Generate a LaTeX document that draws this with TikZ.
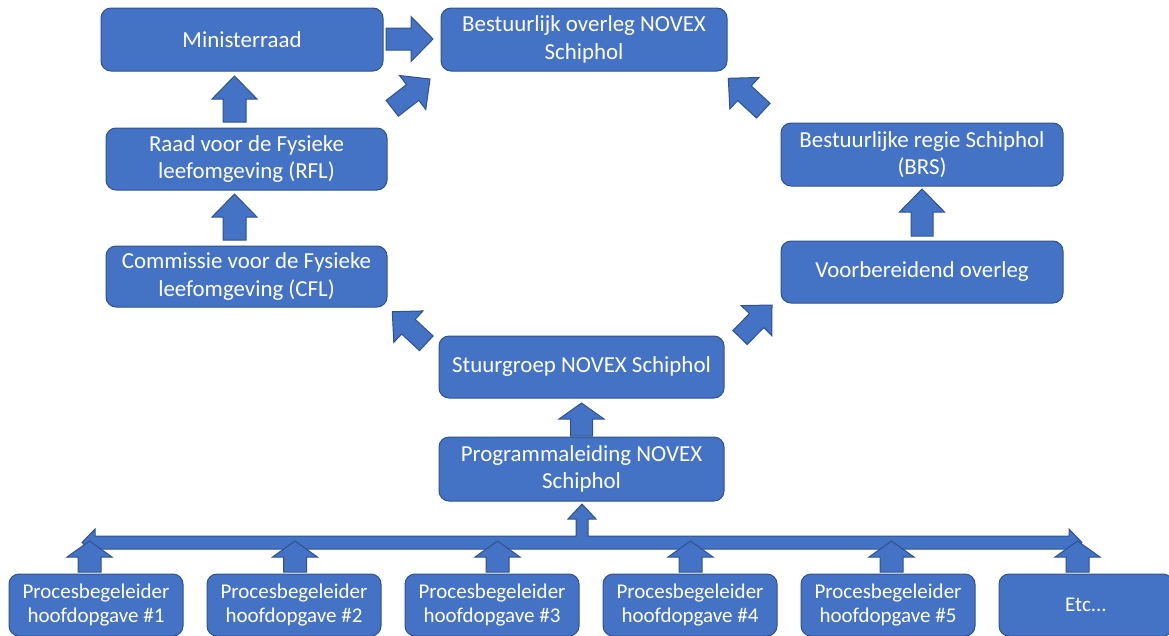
\documentclass[tikz,border=0pt]{standalone}
\usepackage{fontspec}
\setmainfont{Carlito}
\usetikzlibrary{calc}
\definecolor{ofblue}{HTML}{4472C4}
\definecolor{ofline}{HTML}{2F528F}
\tikzset{
  box/.style={rectangle, rounded corners=10pt, fill=ofblue, draw=ofline, line width=1pt,
    text=white, align=center, inner sep=0pt, font=\fontsize{22.9}{27.7}\selectfont},
  smallbox/.style={box, font=\fontsize{21}{24.7}\selectfont, minimum width=174pt, minimum height=62pt},
  blockarr/.style={fill=ofblue, draw=ofline, line width=1pt, line join=miter},
}
% block arrow: tail, tip, shaft width, head width, head length
\newcommand\barrow[5]{%
  \coordinate (ba-q) at ($(#2)!#5!(#1)$);
  \path[blockarr] ($(#1)!{#3/2}!90:(#2)$) -- ($(ba-q)!{#3/2}!-90:(#1)$) -- ($(ba-q)!{#4/2}!-90:(#1)$)
    -- (#2) -- ($(ba-q)!{#4/2}!90:(#1)$) -- ($(ba-q)!{#3/2}!90:(#1)$) -- ($(#1)!{#3/2}!-90:(#2)$) -- cycle;
}
\begin{document}
\begin{tikzpicture}[x=1pt, y=-1pt]
\useasboundingbox (0,0) rectangle (1169,635);

% boxes
\node[box, minimum width=282pt, minimum height=63pt] (min) at (242,39.5) {Ministerraad};
\node[box, minimum width=286pt, minimum height=63pt] (best) at (584,39.5) {Bestuurlijk overleg NOVEX\\Schiphol};
\node[box, minimum width=281pt, minimum height=62pt] (rfl) at (246.5,159) {Raad voor de Fysieke\\leefomgeving (RFL)};
\node[box, minimum width=281pt, minimum height=61pt] (cfl) at (246.5,276.5) {Commissie voor de Fysieke\\leefomgeving (CFL)};
\node[box, minimum width=282pt, minimum height=63pt] (brs) at (922,154.5) {Bestuurlijke regie Schiphol\\(BRS)};
\node[box, minimum width=282pt, minimum height=62pt] (voor) at (922,272) {Voorbereidend overleg};
\node[box, minimum width=285pt, minimum height=62pt] (stuur) at (581.5,367) {Stuurgroep NOVEX Schiphol};
\node[box, minimum width=285pt, minimum height=64pt] (prog) at (581.5,469) {Programmaleiding NOVEX\\Schiphol};

\node[smallbox] (p1) at (96,605) {Procesbegeleider\\hoofdopgave \#1};
\node[smallbox] (p2) at (294,605) {Procesbegeleider\\hoofdopgave \#2};
\node[smallbox] (p3) at (492,605) {Procesbegeleider\\hoofdopgave \#3};
\node[smallbox] (p4) at (690,605) {Procesbegeleider\\hoofdopgave \#4};
\node[smallbox] (p5) at (888,605) {Procesbegeleider\\hoofdopgave \#5};
\node[smallbox] (p6) at (1086,605) {Etc.{}.{}.};

% block arrow end points
\coordinate (rflT) at (234.5,122);   \coordinate (minH) at (234.5,76);
\coordinate (cflT) at (234.5,240);   \coordinate (rflH) at (234.5,194);
\coordinate (voorT) at (922,236);    \coordinate (brsH) at (922,189);
\coordinate (progT) at (581.5,436);  \coordinate (stuurH) at (581.5,403);
\coordinate (minT) at (386,39);      \coordinate (bestH) at (433,39);
\coordinate (minDT) at (392.2,108.3); \coordinate (bestHL) at (430,79);
\coordinate (brsDT) at (763.3,110.7); \coordinate (bestHR) at (728.3,78.3);
\coordinate (stuurDL) at (426.3,343.3); \coordinate (cflH) at (392.3,311.7);
\coordinate (stuurDR) at (740,337.5);  \coordinate (voorH) at (772,305);

\barrow{rflT}{minH}{23pt}{45pt}{23pt}
\barrow{cflT}{rflH}{23pt}{45pt}{23pt}
\barrow{voorT}{brsH}{22pt}{45pt}{23pt}
\barrow{progT}{stuurH}{22pt}{45pt}{16pt}
\barrow{minT}{bestH}{22pt}{45pt}{22pt}
\barrow{minDT}{bestHL}{20pt}{43pt}{22pt}
\barrow{brsDT}{bestHR}{20pt}{43pt}{22pt}
\barrow{stuurDL}{cflH}{20pt}{43pt}{22pt}
\barrow{stuurDR}{voorH}{20pt}{43pt}{22pt}

% collecting bar (left-right-up arrow) into Programmaleiding
\coordinate (barL) at (82,542.5);
\coordinate (barR) at (1082,542.5);
\coordinate (barU) at (582,504);
\path[blockarr] (barL) -- (95,529) -- (95,536) -- (576,536) -- (576,519) -- (568,519) -- (barU)
  -- (596,519) -- (588,519) -- (588,536) -- (1069,536) -- (1069,529) -- (barR)
  -- (1069,556) -- (1069,549) -- (95,549) -- (95,556) -- cycle;

% small arrows from each box into the bar
\foreach \i/\xx in {1/89.5, 2/295, 3/497.5, 4/690.5, 5/891.5, 6/1077.5}{
  \coordinate (s\i T) at (\xx,572);
  \coordinate (s\i H) at (\xx,541);
  \barrow{s\i T}{s\i H}{23pt}{45pt}{16pt}
}
\end{tikzpicture}
\end{document}
